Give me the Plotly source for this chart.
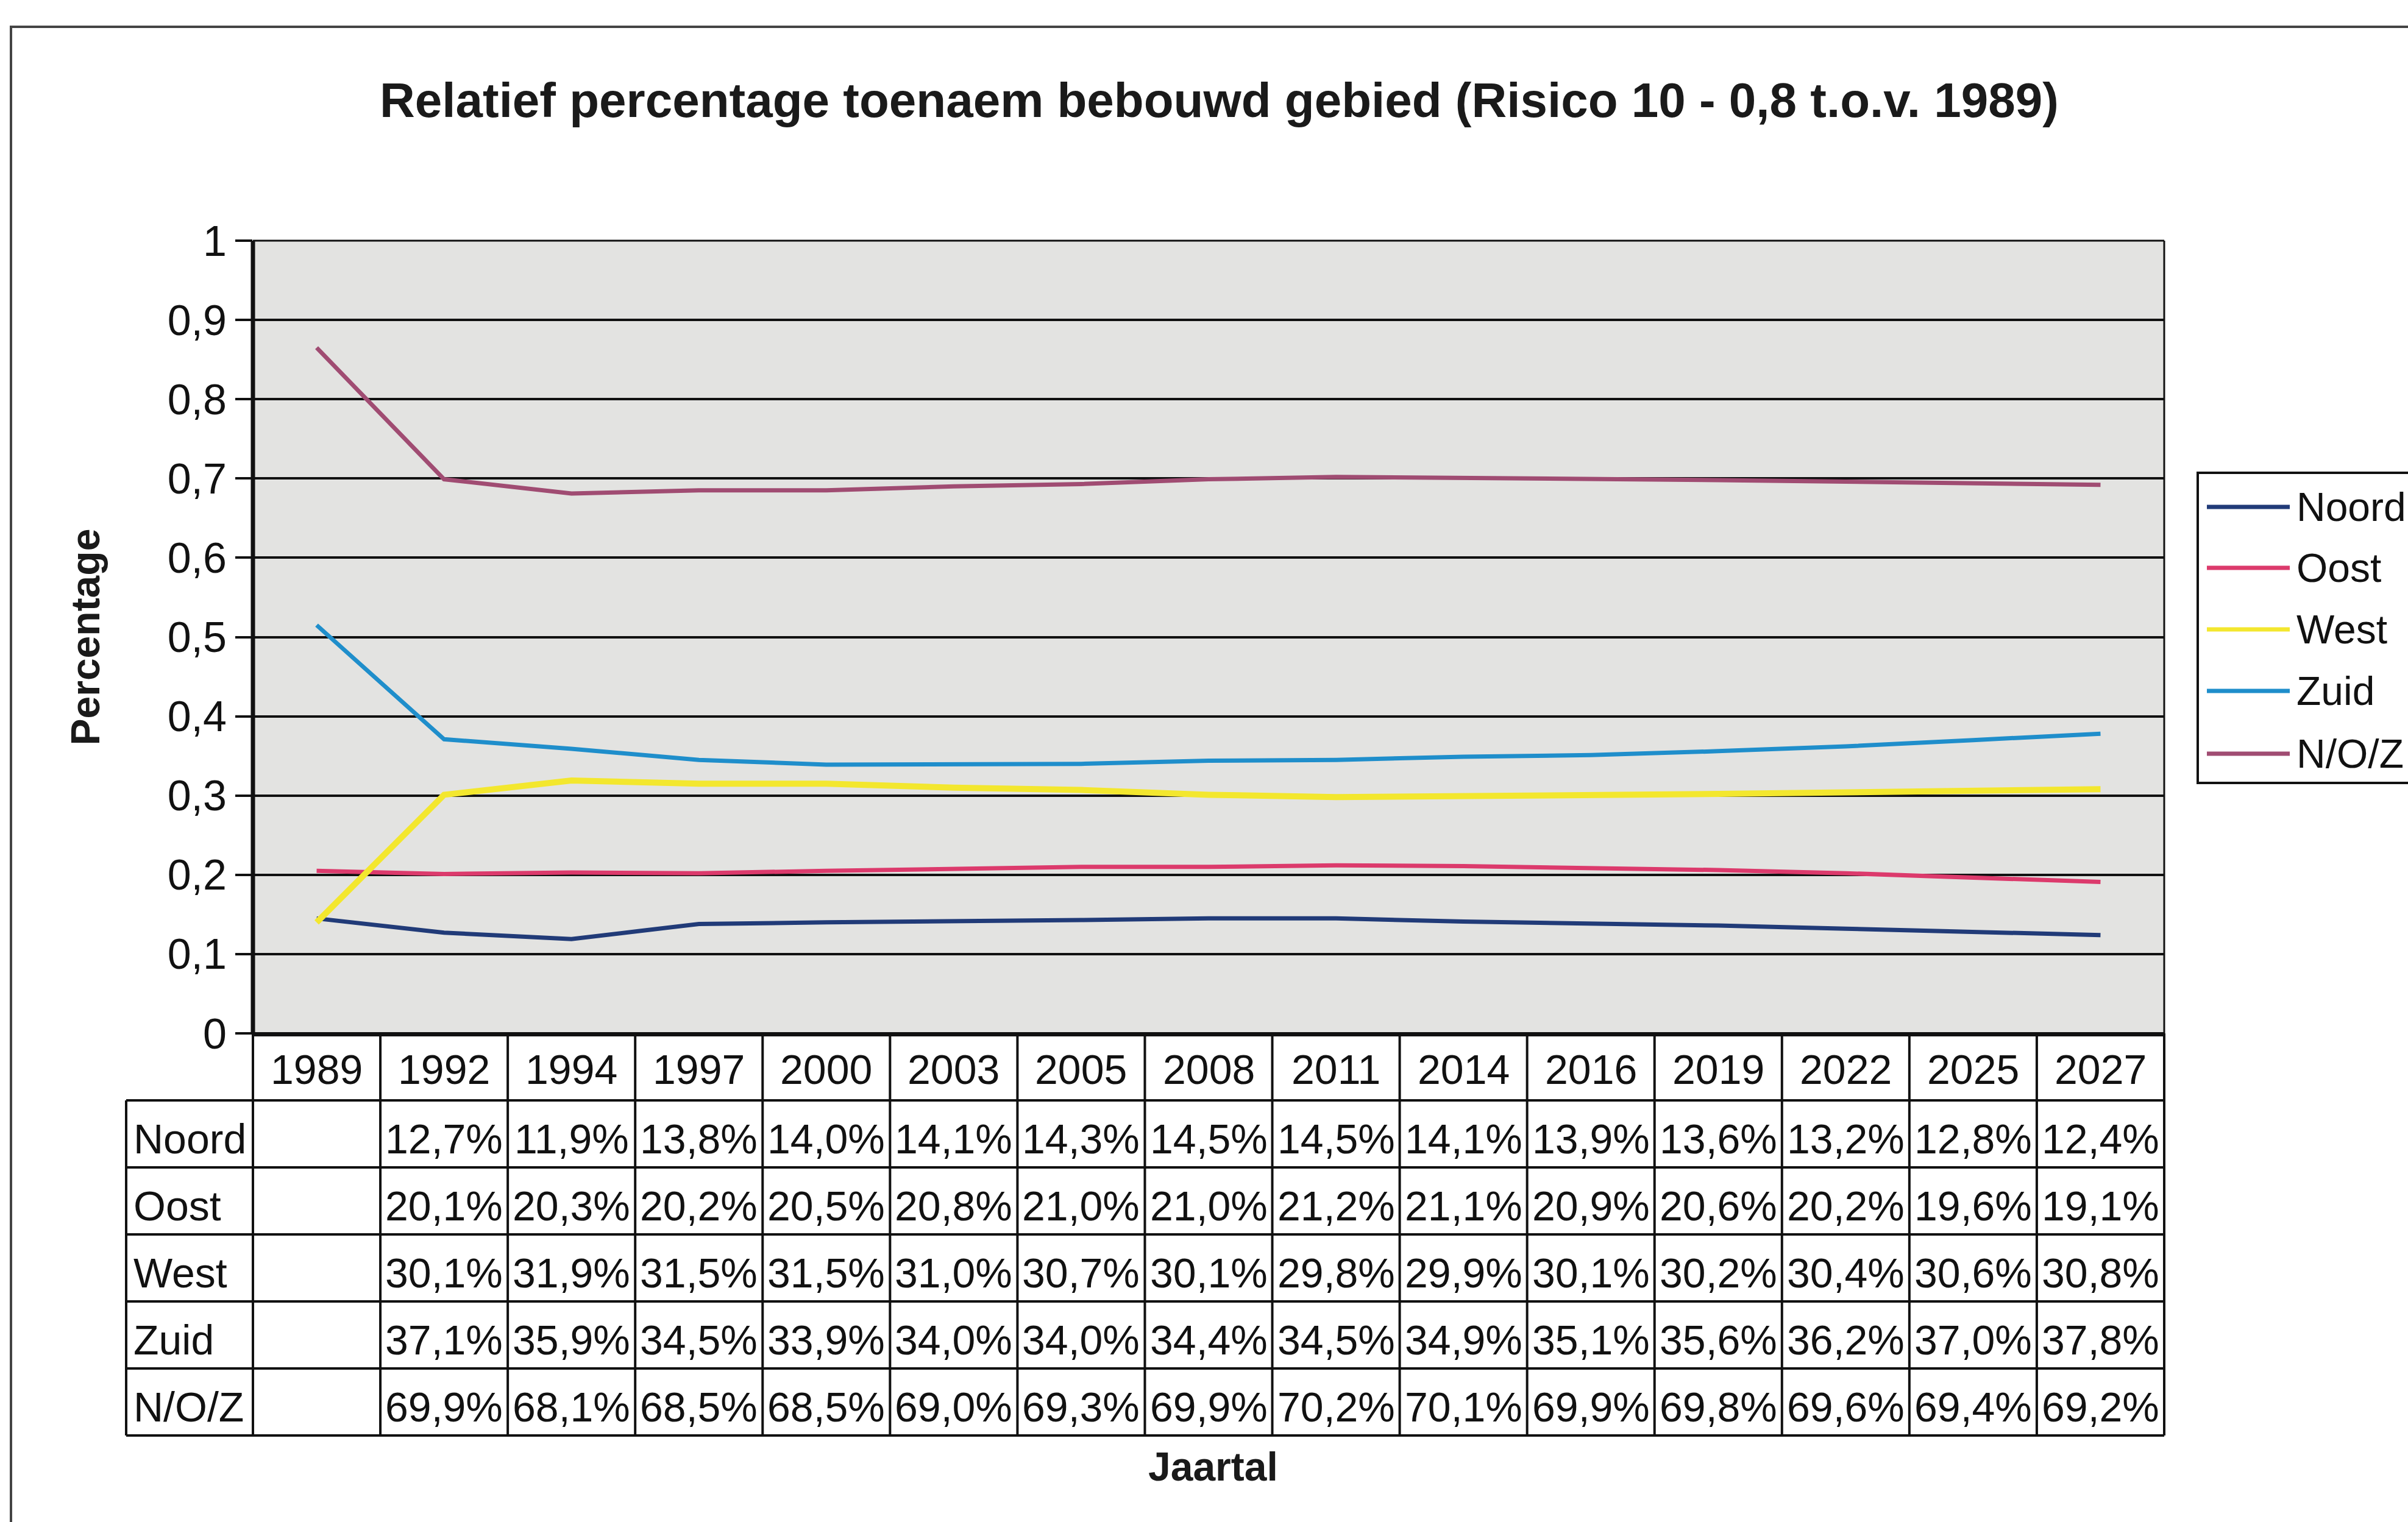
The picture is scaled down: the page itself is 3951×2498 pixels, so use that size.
import plotly.graph_objects as go

# ---- data -------------------------------------------------------------
years = ["1989", "1992", "1994", "1997", "2000", "2003", "2005", "2008",
         "2011", "2014", "2016", "2019", "2022", "2025", "2027"]
series_names = ["Noord", "Oost", "West", "Zuid", "N/O/Z"]

# table values in percent (1989 column left blank in the table)
noord = [None, 12.7, 11.9, 13.8, 14.0, 14.1, 14.3, 14.5, 14.5, 14.1, 13.9, 13.6, 13.2, 12.8, 12.4]
oost = [None, 20.1, 20.3, 20.2, 20.5, 20.8, 21.0, 21.0, 21.2, 21.1, 20.9, 20.6, 20.2, 19.6, 19.1]
west = [None, 30.1, 31.9, 31.5, 31.5, 31.0, 30.7, 30.1, 29.8, 29.9, 30.1, 30.2, 30.4, 30.6, 30.8]
zuid = [None, 37.1, 35.9, 34.5, 33.9, 34.0, 34.0, 34.4, 34.5, 34.9, 35.1, 35.6, 36.2, 37.0, 37.8]
noz = [None, 69.9, 68.1, 68.5, 68.5, 69.0, 69.3, 69.9, 70.2, 70.1, 69.9, 69.8, 69.6, 69.4, 69.2]

# starting fractions for the 1989 reference year
start_1989 = [0.145, 0.205, 0.14, 0.515, 0.865]

colors = ["#213B78", "#DC3A6C", "#F3E72E", "#1F8ECB", "#A04C72"]
widths = [7, 7, 10, 7, 7]

y_ticks = [i / 10 for i in range(11)]

# ---- geometry -----------------------------------------------------------
W, H = 3951, 2498
L, R, T, B = 415, 400, 395, 802
PW, PH = W - L - R, H - T - B
FONT = "Liberation Sans, Arial, sans-serif"
TXT = 68


def pxx(px):
    return (px - L) / PW


def pxy(py):
    return 1 - (py - T) / PH


table = [noord, oost, west, zuid, noz]
x_idx = list(range(len(years)))

fig = go.Figure()
for name, vals, s0, col, w in zip(series_names, table, start_1989, colors, widths):
    yv = [s0] + [v / 100 for v in vals[1:]]
    fig.add_trace(go.Scatter(x=x_idx, y=yv, mode="lines", name=name,
                             line=dict(color=col, width=w), showlegend=False))

shapes = []
ann = []

# plot frame
shapes.append(dict(type="line", xref="paper", yref="paper", x0=0, x1=0, y0=0, y1=1,
                   line=dict(color="#111", width=7)))
shapes.append(dict(type="line", xref="paper", yref="paper", x0=1, x1=1, y0=0, y1=1,
                   line=dict(color="#111", width=3)))
shapes.append(dict(type="line", xref="paper", yref="paper", x0=0, x1=1, y0=1, y1=1,
                   line=dict(color="#111", width=3)))

# data table grid (paper coordinates so the name column outside the axis is kept)
row_top = 1696
row_h = 110
n_rows = len(series_names)
y_edges = [row_top + row_h * k for k in range(n_rows + 2)]
name_left = pxx(207)
for k, ye in enumerate(y_edges):
    x0 = 0 if k == 0 else name_left
    shapes.append(dict(type="line", xref="paper", yref="paper", x0=x0, x1=1,
                       y0=pxy(ye), y1=pxy(ye), line=dict(color="#111", width=4)))
ncol = len(years)
for i in range(ncol + 1):
    xe = i / ncol
    shapes.append(dict(type="line", xref="paper", yref="paper", x0=xe, x1=xe,
                       y0=pxy(y_edges[0]), y1=pxy(y_edges[-1]), line=dict(color="#111", width=4)))
shapes.append(dict(type="line", xref="paper", yref="paper", x0=name_left, x1=name_left,
                   y0=pxy(y_edges[1]), y1=pxy(y_edges[-1]), line=dict(color="#111", width=4)))

# header row: years
for i, yr in enumerate(years):
    ann.append(dict(x=i, y=pxy((y_edges[0] + y_edges[1]) / 2 + 4), xref="x", yref="paper",
                    text=yr, showarrow=False, font=dict(family=FONT, size=TXT, color="#111"),
                    xanchor="center", yanchor="middle"))

# body rows
for r, (name, vals) in enumerate(zip(series_names, table)):
    yc = pxy((y_edges[r + 1] + y_edges[r + 2]) / 2 + 8)
    ann.append(dict(x=name_left, y=yc, xref="paper", yref="paper", text=name, showarrow=False,
                    xanchor="left", yanchor="middle", xshift=10,
                    font=dict(family=FONT, size=TXT, color="#111")))
    for i, v in enumerate(vals):
        if v is None:
            continue
        txt = f"{v:.1f}%".replace(".", ",")
        ann.append(dict(x=i, y=yc, xref="x", yref="paper", text=txt, showarrow=False,
                        xanchor="center", yanchor="middle",
                        font=dict(family=FONT, size=TXT, color="#111")))

# titles
ann.append(dict(x=pxx(2000), y=pxy(164), xref="paper", yref="paper",
                text="<b>Relatief percentage toenaem bebouwd gebied (Risico 10 - 0,8 t.o.v. 1989)</b>",
                showarrow=False, xanchor="center", yanchor="middle",
                font=dict(family=FONT, size=80, color="#1a1a1a")))
ann.append(dict(x=pxx(139), y=0.5, xref="paper", yref="paper", text="<b>Percentage</b>",
                textangle=-90, showarrow=False, xanchor="center", yanchor="middle",
                font=dict(family=FONT, size=66, color="#1a1a1a")))
ann.append(dict(x=pxx(1990), y=pxy(2407), xref="paper", yref="paper", text="<b>Jaartal</b>",
                showarrow=False, xanchor="center", yanchor="middle",
                font=dict(family=FONT, size=66, color="#1a1a1a")))

# legend box
shapes.append(dict(type="rect", xref="paper", yref="paper", x0=pxx(3606), x1=pxx(3990),
                   y0=pxy(1285), y1=pxy(776), line=dict(color="#111", width=4),
                   fillcolor="white", layer="below"))
leg_y = [832, 932, 1033, 1134, 1237]
for name, col, ly in zip(series_names, colors, leg_y):
    shapes.append(dict(type="line", xref="paper", yref="paper", x0=pxx(3621), x1=pxx(3757),
                       y0=pxy(ly), y1=pxy(ly), line=dict(color=col, width=7)))
    ann.append(dict(x=pxx(3766), y=pxy(ly), xref="paper", yref="paper", text=name,
                    showarrow=False, xanchor="left", yanchor="middle",
                    font=dict(family=FONT, size=66, color="#111")))

# outer chart border
shapes.append(dict(type="rect", xref="paper", yref="paper", x0=pxx(18), x1=pxx(4100),
                   y0=pxy(2700), y1=pxy(44), line=dict(color="#444", width=4),
                   fillcolor="rgba(0,0,0,0)", layer="below"))

fig.update_layout(
    width=W, height=H,
    margin=dict(l=L, r=R, t=T, b=B),
    paper_bgcolor="white",
    plot_bgcolor="#E3E3E1",
    separators=", ",
    shapes=shapes,
    annotations=ann,
    xaxis=dict(range=[-0.5, len(years) - 0.5], showticklabels=False, showgrid=False,
               zeroline=False, showline=True, linecolor="#111", linewidth=5, ticks=""),
    yaxis=dict(range=[0, 1], tickvals=y_ticks, showgrid=True, gridcolor="#111", gridwidth=4,
               zeroline=False, ticks="outside", ticklen=28, tickwidth=4, tickcolor="#111",
               tickfont=dict(family=FONT, size=70, color="#111"), showline=False),
    font=dict(family=FONT),
)

fig.write_html("out.html")
